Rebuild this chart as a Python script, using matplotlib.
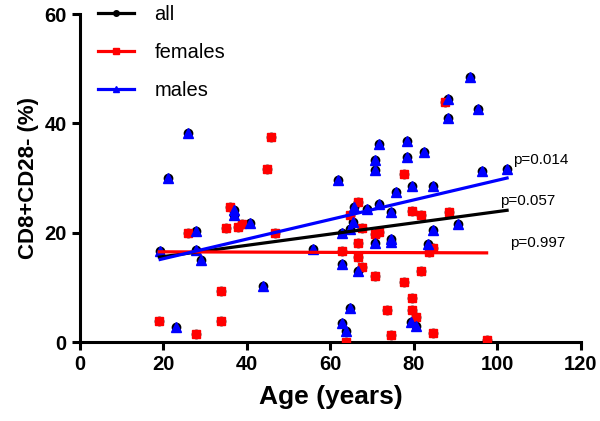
import numpy as np
import matplotlib
matplotlib.use("Agg")
import matplotlib.pyplot as plt

plt.rcParams["font.family"] = ["Liberation Sans", "DejaVu Sans"]

# values
male_age = [19.2, 21, 22.9, 25.8, 27.9, 27.9, 28.9, 36.9, 36.9, 40.7, 43.9, 55.7,
            61.7, 62.7, 62.7, 62.7, 63.7, 64.7, 64.7, 65.5, 65.7, 66.7, 68.7, 70.7,
            70.7, 70.7, 71.6, 71.6, 74.5, 74.5, 74.5, 75.6, 78.4, 78.4, 79.4, 79.6,
            80.5, 82.5, 83.4, 84.5, 84.5, 88.2, 88.2, 90.5, 93.4, 95.4, 96.4, 102.3]
male_cd8 = [16.6, 30, 2.8, 38.2, 20.3, 16.9, 15, 24.1, 23.2, 21.8, 10.2, 17,
            29.7, 20, 14.3, 3.5, 2, 20.6, 6.2, 21.9, 24.7, 13, 24.3, 33.3,
            31.4, 18.2, 36.3, 25.2, 23.7, 18.8, 18.3, 27.4, 36.8, 33.9, 3.7, 28.5,
            2.9, 34.7, 17.9, 28.5, 20.5, 44.5, 40.9, 21.5, 48.4, 42.6, 31.3, 31.6]

female_age = [19, 25.9, 27.9, 33.8, 33.8, 34.9, 35.9, 37.9, 38.9, 44.7, 45.7, 46.7,
              62.7, 63.7, 64.7, 66.7, 66.7, 66.7, 67.6, 67.6, 70.7, 70.7, 71.6, 73.6,
              74.6, 77.6, 77.6, 79.6, 79.6, 79.6, 80.6, 81.6, 81.6, 83.6, 84.5, 84.5,
              87.4, 88.5, 97.4]
female_cd8 = [3.9, 19.9, 1.4, 9.4, 3.9, 20.9, 24.7, 21.1, 21.5, 31.6, 37.5, 20,
              16.7, 0, 23.2, 25.6, 18.2, 15.5, 20.9, 13.8, 19.7, 12.1, 20.2, 5.9,
              1.3, 30.7, 10.9, 24, 8.1, 5.9, 4.5, 23.2, 13, 16.5, 17.2, 1.6,
              43.9, 23.7, 0.4]

# regression lines as drawn in the reference (slope, intercept)
fit_all = (0.1028, 13.58)
fit_female = (-0.0025, 16.55)
fit_male = (0.1793, 11.66)

p_labels = ["p=0.014", "p=0.057", "p=0.997"]

all_age = np.array(male_age + female_age)
all_cd8 = np.array(male_cd8 + female_cd8)


def fit_line(x, coef):
    xs = np.array([min(x), max(x)])
    return xs, coef[0] * xs + coef[1]


fig = plt.figure(figsize=(6, 4.21), dpi=100)
ax = fig.add_axes([0.1333, 0.1876, 0.8350, 0.7791])

# points
ax.plot(all_age, all_cd8, "o", color="black", ms=6, zorder=2)
ax.plot(female_age, female_cd8, "s", color="red", ms=5.5, zorder=3)
ax.plot(male_age, male_cd8, "^", color="blue", ms=6.5, zorder=4)

# regression lines
xs, ys = fit_line(all_age, fit_all)
ax.plot(xs, ys, color="black", lw=2.3, zorder=5)
xs, ys = fit_line(female_age, fit_female)
ax.plot(xs, ys, color="red", lw=2.3, zorder=5)
xs, ys = fit_line(male_age, fit_male)
ax.plot(xs, ys, color="blue", lw=2.3, zorder=5)

# legend handles
h_all, = ax.plot([], [], "-o", color="black", lw=2.3, ms=4)
h_fem, = ax.plot([], [], "-s", color="red", lw=2.3, ms=4)
h_mal, = ax.plot([], [], "-^", color="blue", lw=2.3, ms=4)
fig.legend([h_all, h_fem, h_mal], ["all", "females", "males"],
           loc="upper left", bbox_to_anchor=(98 / 600, 1 - 5 / 421),
           frameon=False, fontsize=14.5, handlelength=1.8, handletextpad=1.0,
           labelspacing=0.95, borderpad=0, borderaxespad=0)

# p-values
fig.text(513 / 600, 1 - 160 / 421, p_labels[0], fontsize=11, va="center")
fig.text(500 / 600, 1 - 201 / 421, p_labels[1], fontsize=11, va="center")
fig.text(510 / 600, 1 - 243 / 421, p_labels[2], fontsize=11, va="center")

ax.set_xlim(0, 120)
ax.set_ylim(0, 60)
ax.set_xticks(range(0, 121, 20))
ax.set_yticks(range(0, 61, 20))
ax.spines["top"].set_visible(False)
ax.spines["right"].set_visible(False)
ax.spines["left"].set_linewidth(2.2)
ax.spines["bottom"].set_linewidth(2.2)
ax.tick_params(width=2.2, length=6, labelsize=14.5)
for lab in ax.get_xticklabels() + ax.get_yticklabels():
    lab.set_fontweight("bold")
for sp in ax.spines.values():
    sp.set_clip_on(False)

ax.set_xlabel("Age (years)", fontsize=19, fontweight="bold", labelpad=8)
ax.set_ylabel("CD8+CD28- (%)", fontsize=16, fontweight="bold", labelpad=4)

fig.savefig("out.png", dpi=100)
